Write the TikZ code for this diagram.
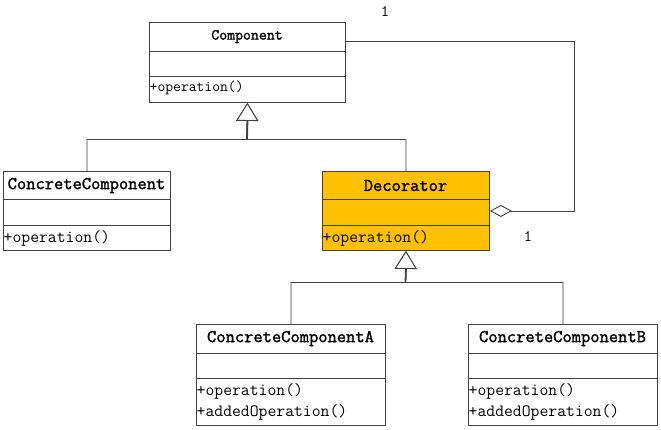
\documentclass[tikz,border=0pt]{standalone}
\usepackage{fontspec}
\newfontfamily\boldmono{Latin Modern Mono}[FakeBold=1.6]
\usetikzlibrary{arrows.meta}
\definecolor{edge}{HTML}{404040}
\definecolor{amber}{HTML}{FFC000}
\tikzset{
  line/.style={draw=edge, line width=0.9pt},
  stem/.style={draw=edge, line width=1.8pt},
  classbox/.style={line, rectangle, anchor=north west, inner sep=0pt, fill=white},
  ctitle/.style={font=\boldmono\fontsize{18}{20}\selectfont, inner sep=0pt},
  cmeth/.style={font=\ttfamily\fontsize{17.2}{19}\selectfont, inner sep=0pt, anchor=west},
  stitle/.style={font=\boldmono\fontsize{15.4}{17}\selectfont, inner sep=0pt},
  smeth/.style={font=\ttfamily\fontsize{15.2}{17}\selectfont, inner sep=0pt, anchor=west},
  mult/.style={font=\ttfamily\fontsize{16}{18}\selectfont, inner sep=0pt},
  inherit/.style={line, -{Triangle[open, length=18pt, width=22pt, fill=white]}},
  aggr/.style={line, {Diamond[open, length=22pt, width=12pt, fill=white]}-},
}
\begin{document}
\begin{tikzpicture}[x=1pt, y=-1pt]
\useasboundingbox (0,0) rectangle (661,429);

% Component
\node[classbox, minimum width=196pt, minimum height=80pt] (component) at (149,22) {};
\draw[line] (149,51) -- (345,51) (149,76) -- (345,76);
\node[stitle] (componentT) at (247,36.5) {Component};
\node[smeth] (componentM) at (149.5,88) {+operation()};

% ConcreteComponent
\node[classbox, minimum width=167pt, minimum height=79pt] (cc) at (3,171) {};
\draw[line] (3,199) -- (170,199) (3,225) -- (170,225);
\node[ctitle] (ccT) at (86.5,185.5) {ConcreteComponent};
\node[cmeth] (ccM) at (3.5,238) {+operation()};

% Decorator
\node[classbox, fill=amber, minimum width=167pt, minimum height=79pt] (decorator) at (322,171) {};
\draw[line] (322,199) -- (489,199) (322,225) -- (489,225);
\node[ctitle] (decT) at (405.5,185.5) {Decorator};
\node[cmeth] (decM) at (322.5,238) {+operation()};

% ConcreteComponentA
\node[classbox, minimum width=189pt, minimum height=101pt] (ca) at (196,324) {};
\draw[line] (196,353) -- (385,353) (196,378) -- (385,378);
\node[ctitle] (caT) at (290.5,338.5) {ConcreteComponentA};
\node[cmeth] (caM1) at (196.5,391) {+operation()};
\node[cmeth] (caM2) at (196.5,412) {+addedOperation()};

% ConcreteComponentB
\node[classbox, minimum width=189pt, minimum height=101pt] (cb) at (468,324) {};
\draw[line] (468,353) -- (657,353) (468,378) -- (657,378);
\node[ctitle] (cbT) at (562.5,338.5) {ConcreteComponentB};
\node[cmeth] (cbM1) at (468.5,391) {+operation()};
\node[cmeth] (cbM2) at (468.5,412) {+addedOperation()};

% inheritance: shared stems below each triangle
\coordinate (j1) at (247,139.5);
\coordinate (j2) at (405.5,282.5);
\draw[stem] (j1) -- ([yshift=-18pt]component.south);
\draw[stem] (j2) -- ([yshift=-18pt]decorator.south);
\draw[inherit] (cc.north) |- (j1) -- (component.south);
\draw[inherit] (decorator.north) |- (j1) -- (component.south);
\draw[inherit] (ca.north) |- (j2) -- (decorator.south);
\draw[inherit] (cb.north) |- (j2) -- (decorator.south);

% aggregation
\coordinate (corner) at (574.5,41.5);
\draw[aggr] (decorator.east) -| (corner) -- (corner -| component.east);
\node[mult] (m1) at (385,12) {1};
\node[mult] (m2) at (528,236.5) {1};
\end{tikzpicture}
\end{document}
